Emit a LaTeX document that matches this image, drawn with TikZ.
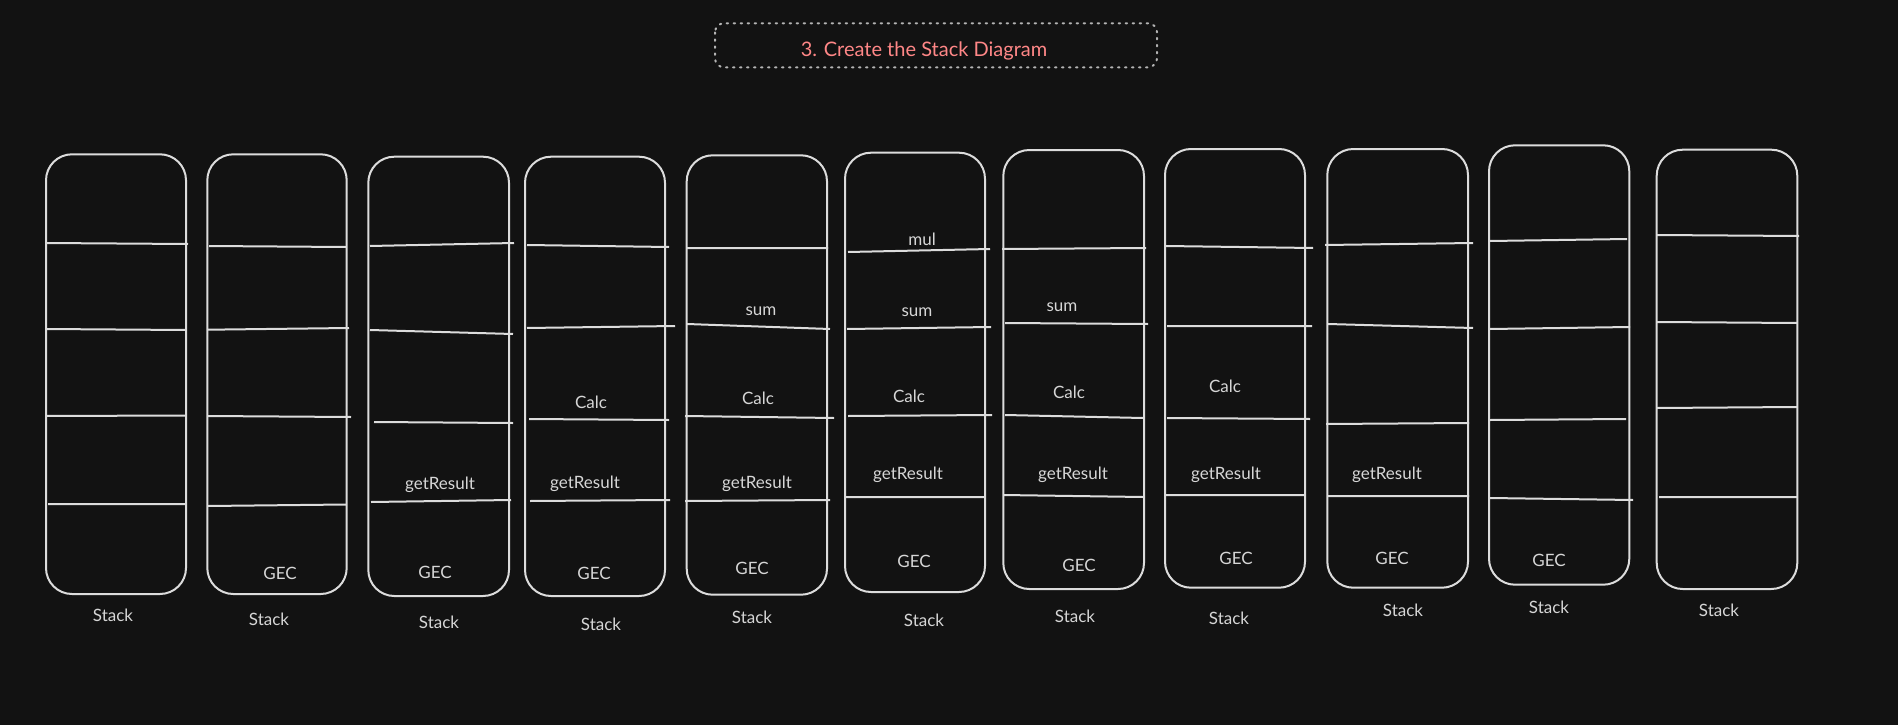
\documentclass[tikz,border=0pt]{standalone}
\usepackage{fontspec}
\setmainfont{Lato}
\definecolor{bg}{HTML}{121212}
\definecolor{ink}{HTML}{DCDCDC}
\definecolor{txt}{HTML}{D6D6D6}
\definecolor{titlec}{HTML}{FF8787}
\definecolor{dotc}{HTML}{B4B4B4}
\begin{document}
\begin{tikzpicture}[x=1pt,y=-1pt,
  stackbox/.style={draw=ink, line width=2pt, rounded corners=26pt},
  divider/.style={draw=ink, line width=2pt},
  lbl/.style={text=txt, font=\fontsize{17}{20}\selectfont, inner sep=0pt, text height=12pt, text depth=0pt},
  titlebox/.style={draw=dotc, line width=2pt, dash pattern=on 1.5pt off 5.5pt, line cap=round, rounded corners=9pt},
  titletext/.style={text=titlec, font=\fontsize{20}{24}\selectfont, inner sep=0pt, text height=14pt, text depth=0pt}]
\fill[bg] (0,0) rectangle (1898,725);
\useasboundingbox (0,0) rectangle (1898,725);
% title
\draw[titlebox] (715,23.3) rectangle (1157,67.3);
\node[titletext] (title) at (924,49.3) {3. Create the Stack Diagram};
% stacks
\draw[stackbox] (46,154.3) rectangle (186,594);
\draw[stackbox] (207.3,154.3) rectangle (346.7,594);
\draw[stackbox] (368.3,156.7) rectangle (509,596);
\draw[stackbox] (525,156.7) rectangle (665,596);
\draw[stackbox] (686.7,155.3) rectangle (827,594.7);
\draw[stackbox] (845,152.7) rectangle (985,592);
\draw[stackbox] (1003.3,150) rectangle (1144,589);
\draw[stackbox] (1165,149) rectangle (1305,587.7);
\draw[stackbox] (1327.3,149) rectangle (1468,587.7);
\draw[stackbox] (1489,145.3) rectangle (1629.3,584.7);
\draw[stackbox] (1656.7,149.7) rectangle (1797.3,589);
% dividers
\draw[divider] (46,243)--(188,244) (46,329)--(186,330) (46,416)--(186,415.5) (48,504)--(186,504);
\draw[divider] (209,246)--(346,247) (208,329.7)--(349,328) (208,416)--(351,417) (208,506)--(346,504.5);
\draw[divider] (370,246)--(514,243) (370,330)--(513,334) (374,422)--(513,423) (371,502)--(511,500);
\draw[divider] (527,245)--(669,247) (527,328)--(675,326) (529,419)--(669,420) (530,501)--(670,500);
\draw[divider] (687,248)--(828,248) (687,324)--(830,329) (685,416)--(834,418) (685,501)--(830,500);
\draw[divider] (848,252)--(990,249) (847,329)--(991,327) (848,416)--(992,415) (845,497)--(985,497);
\draw[divider] (1002,249)--(1146,248) (1005,323)--(1148,324) (1005,415)--(1143,418) (1003,495)--(1143,497);
\draw[divider] (1166,246)--(1313,248) (1167,326)--(1312,326) (1167,418)--(1310,419) (1165,495)--(1305,495);
\draw[divider] (1325,245)--(1473,243) (1328,324)--(1473,328) (1326,424)--(1469,423) (1328,496)--(1469,496);
\draw[divider] (1490,241)--(1627,239) (1490,329)--(1630,327) (1490,420)--(1626,419) (1490,498)--(1633,500);
\draw[divider] (1657,235)--(1799,236) (1657,322)--(1797,323) (1657,408)--(1797,407) (1659,497)--(1797,497);
% Stack captions
\node[lbl] (st1) at (113,615) {Stack};
\node[lbl] (st2) at (269,619) {Stack};
\node[lbl] (st3) at (439,622) {Stack};
\node[lbl] (st4) at (601,624) {Stack};
\node[lbl] (st5) at (752,617) {Stack};
\node[lbl] (st6) at (924,620) {Stack};
\node[lbl] (st7) at (1075,616) {Stack};
\node[lbl] (st8) at (1229,618) {Stack};
\node[lbl] (st9) at (1403,610) {Stack};
\node[lbl] (st10) at (1549,607) {Stack};
\node[lbl] (st11) at (1719,610) {Stack};
% GEC
\node[lbl] (g2) at (280,573) {GEC};
\node[lbl] (g3) at (435,572) {GEC};
\node[lbl] (g4) at (594,573) {GEC};
\node[lbl] (g5) at (752,568) {GEC};
\node[lbl] (g6) at (914,561) {GEC};
\node[lbl] (g7) at (1079,565) {GEC};
\node[lbl] (g8) at (1236,558) {GEC};
\node[lbl] (g9) at (1392,558) {GEC};
\node[lbl] (g10) at (1549,560) {GEC};
% getResult
\node[lbl] (r3) at (440,483) {getResult};
\node[lbl] (r4) at (585,482) {getResult};
\node[lbl] (r5) at (757,482) {getResult};
\node[lbl] (r6) at (908,473) {getResult};
\node[lbl] (r7) at (1073,473) {getResult};
\node[lbl] (r8) at (1226,473) {getResult};
\node[lbl] (r9) at (1387,473) {getResult};
% Calc
\node[lbl] (c4) at (591,402) {Calc};
\node[lbl] (c5) at (758,398) {Calc};
\node[lbl] (c6) at (909,396) {Calc};
\node[lbl] (c7) at (1069,392) {Calc};
\node[lbl] (c8) at (1225,386) {Calc};
% sum
\node[lbl] (m5) at (761,309) {sum};
\node[lbl] (m6) at (917,310) {sum};
\node[lbl] (m7) at (1062,305) {sum};
% mul
\node[lbl] (mu6) at (922,239) {mul};
\end{tikzpicture}
\end{document}
